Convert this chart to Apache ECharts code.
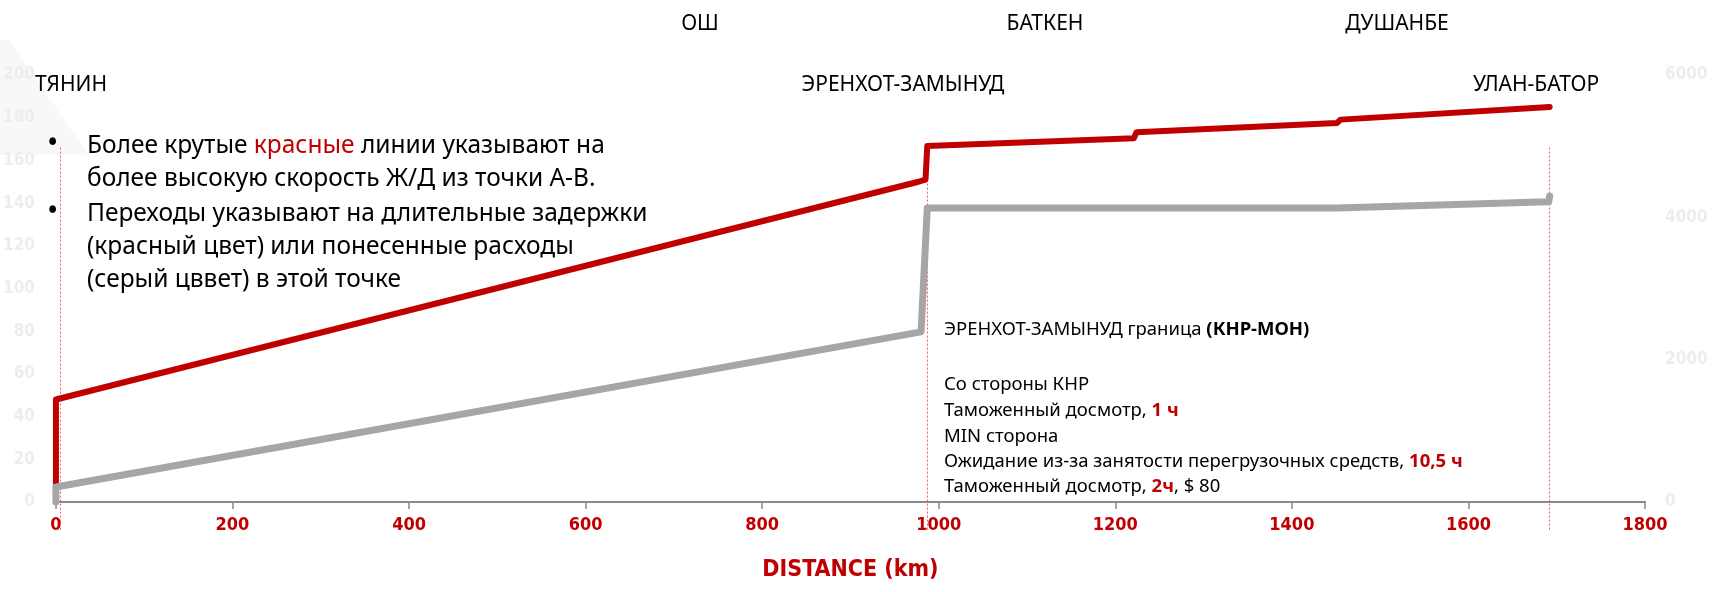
<!DOCTYPE html>
<html>
<head>
<meta charset="utf-8">
<title>Distance / time / cost</title>
<script src="https://cdn.jsdelivr.net/npm/echarts@6/dist/echarts.min.js"></script>
<style>
html, body { margin: 0; padding: 0; background: #ffffff; }
#main { width: 1716px; height: 592px; }
</style>
</head>
<body>
<div id="main"></div>
<script>
// tick labels of the three axes
var distTicks = [0, 200, 400, 600, 800, 1000, 1200, 1400, 1600, 1800];
var hourTicks = [0, 20, 40, 60, 80, 100, 120, 140, 160, 180, 200];
var costTicks = [0, 2000, 4000, 6000];

// red line: time (left axis)
var redKm = [0, 0, 977, 985, 987, 1221, 1224, 1451, 1455, 1692];
var redHours = [7, 48, 150, 151, 166.8, 170.4, 173.2, 177.5, 179.1, 185];

// grey line: cost (right axis)
var greyKm = [0, 0, 980, 987, 1451, 1691, 1692];
var greyCost = [0, 210, 2390, 4130, 4130, 4220, 4300];

// dotted red markers at the stations
var stationKm = [5, 987, 1691];

var RED = '#c00000';
var GREY = '#a6a6a6';
var TXT = 'Noto Sans';
var NUM = '"DejaVu Sans Condensed", "DejaVu Sans", sans-serif';

function pairs(xs, ys) {
    var out = [];
    for (var i = 0; i < xs.length; i++) {
        out.push([xs[i], ys[i]]);
    }
    return out;
}

function plain(v) {
    return String(v);
}

var option = {
    animation: false,
    grid: { left: 54, right: 71, top: 75, bottom: 90 },
    xAxis: {
        type: 'value',
        min: distTicks[0],
        max: distTicks[distTicks.length - 1],
        interval: distTicks[1] - distTicks[0],
        name: 'DISTANCE (km)',
        nameLocation: 'middle',
        nameGap: 57,
        nameTextStyle: { color: RED, fontFamily: NUM, fontWeight: 'bold', fontSize: 23 },
        axisLine: { lineStyle: { color: '#8a8a8a', width: 2 } },
        axisTick: { length: 7, lineStyle: { color: '#8a8a8a', width: 1.5 } },
        axisLabel: { color: RED, fontFamily: NUM, fontWeight: 'bold', fontSize: 18, margin: 14, formatter: plain },
        splitLine: { show: false }
    },
    yAxis: [
        {
            type: 'value',
            min: hourTicks[0],
            max: hourTicks[hourTicks.length - 1],
            interval: hourTicks[1] - hourTicks[0],
            axisLine: { show: false },
            axisTick: { show: false },
            splitLine: { show: false },
            axisLabel: { color: '#ededed', fontFamily: NUM, fontWeight: 'bold', fontSize: 17, margin: 21, formatter: plain }
        },
        {
            type: 'value',
            min: costTicks[0],
            max: costTicks[costTicks.length - 1],
            interval: costTicks[1] - costTicks[0],
            axisLine: { show: false },
            axisTick: { show: false },
            splitLine: { show: false },
            axisLabel: { color: '#ededed', fontFamily: NUM, fontWeight: 'bold', fontSize: 17, margin: 20, formatter: plain }
        }
    ],
    series: [
        {
            name: 'time',
            type: 'line',
            yAxisIndex: 0,
            showSymbol: false,
            symbol: 'none',
            lineStyle: { color: RED, width: 6, cap: 'round', join: 'round' },
            data: pairs(redKm, redHours)
        },
        {
            name: 'cost',
            type: 'line',
            yAxisIndex: 1,
            showSymbol: false,
            symbol: 'none',
            lineStyle: { color: GREY, width: 7, cap: 'round', join: 'round' },
            data: pairs(greyKm, greyCost)
        }
    ]
};

var myChart = echarts.init(document.getElementById('main'));
myChart.setOption(option);

function label(x, y, text, size, extra) {
    var st = {
        text: text,
        x: 0, y: 0,
        fill: '#000000',
        font: size + 'px "' + TXT + '"',
        align: 'left',
        verticalAlign: 'middle'
    };
    if (extra) {
        for (var k in extra) st[k] = extra[k];
    }
    return { type: 'text', x: x, y: y, z: 100, style: st };
}

var NOTE = 18.5;
var richRed = { r: { fill: RED, fontFamily: TXT, fontSize: NOTE, fontWeight: 'bold' } };
var richBold = { b: { fill: '#000000', fontFamily: TXT, fontSize: NOTE, fontWeight: 'bold' } };

var graphics = [
    // faint background corner
    { type: 'polygon', z: -10, shape: { points: [[0, 40], [10, 40], [88, 155], [0, 155]] }, style: { fill: '#f6f8fa' } },

    // station names
    label(700, 24, 'ОШ', 21, { align: 'center' }),
    label(1045, 24, 'БАТКЕН', 21, { align: 'center' }),
    label(1397, 24, 'ДУШАНБЕ', 21, { align: 'center' }),
    label(71, 85, 'ТЯНИН', 21, { align: 'center' }),
    label(903, 85, 'ЭРЕНХОТ-ЗАМЫНУД', 21, { align: 'center' }),
    label(1536, 85, 'УЛАН-БАТОР', 21, { align: 'center' }),

    // legend notes
    label(47, 144, '•', 30),
    label(87, 146, 'Более крутые {r|красные} линии указывают на', 24.5,
        { rich: { r: { fill: RED, fontFamily: TXT, fontSize: 24.5 } } }),
    label(87, 179, 'более высокую скорость Ж/Д из точки А-В.', 24.5),
    label(47, 212, '•', 30),
    label(87, 214, 'Переходы указывают на длительные задержки', 24.5),
    label(87, 247, '(красный цвет) или понесенные расходы', 24.5),
    label(87, 280, '(серый цввет) в этой точке', 24.5),

    // border crossing note
    label(944, 330, 'ЭРЕНХОТ-ЗАМЫНУД граница {b|(КНР-МОН)}', NOTE, { rich: richBold }),
    label(944, 385, 'Со стороны КНР', NOTE),
    label(944, 411, 'Таможенный досмотр, {r|1 ч}', NOTE, { rich: richRed }),
    label(944, 437, 'MIN сторона', NOTE),
    label(944, 462, 'Ожидание из-за занятости перегрузочных средств, {r|10,5 ч}', NOTE, { rich: richRed }),
    label(944, 487, 'Таможенный досмотр, {r|2ч}, $ 80', NOTE, { rich: richRed })
];

// dotted markers, placed through the axes
stationKm.forEach(function (km) {
    var x = myChart.convertToPixel({ xAxisIndex: 0 }, km);
    var yTop = myChart.convertToPixel({ yAxisIndex: 0 }, 166);
    var yBot = myChart.convertToPixel({ yAxisIndex: 0 }, -13);
    graphics.push({
        type: 'line', z: 1,
        shape: { x1: Math.round(x) + 0.5, y1: yTop, x2: Math.round(x) + 0.5, y2: yBot },
        style: { stroke: '#ff5a5a', lineWidth: 1, lineDash: [2, 2] }
    });
});

myChart.setOption({ graphic: graphics });
</script>
</body>
</html>
